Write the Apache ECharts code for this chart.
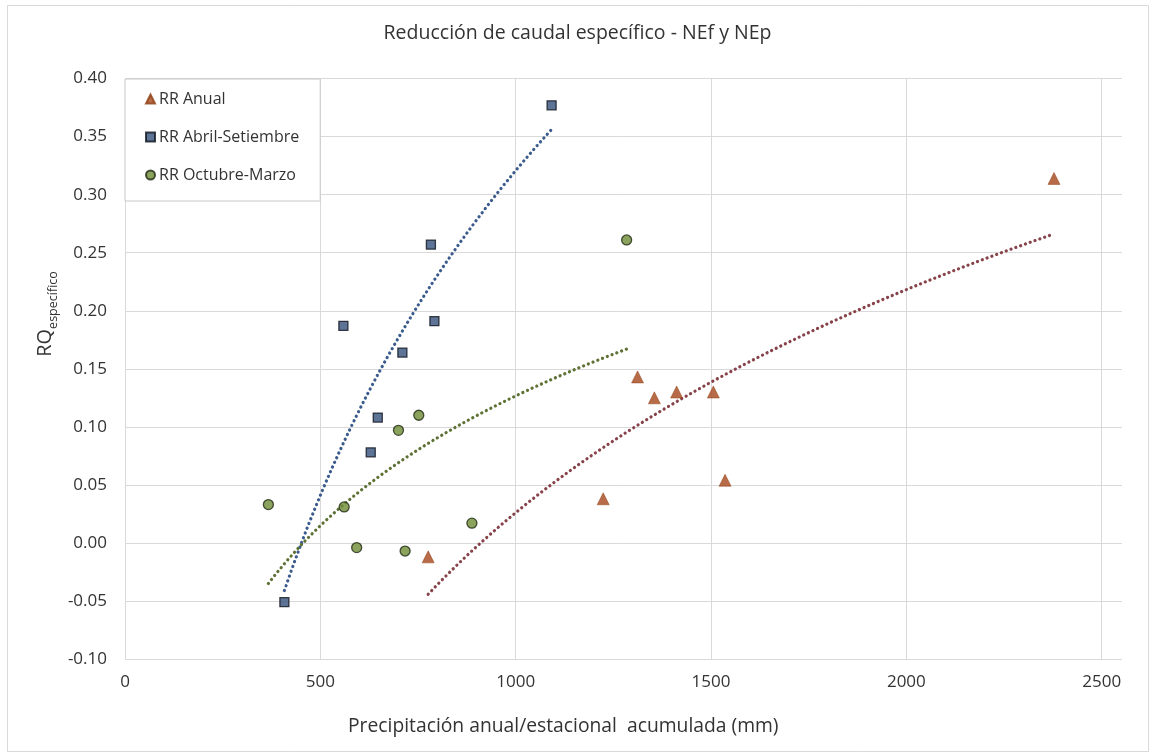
<!DOCTYPE html>
<html>
<head>
<meta charset="utf-8">
<script src="https://cdn.jsdelivr.net/npm/echarts@6/dist/echarts.min.js"></script>
<style>
  html, body { margin: 0; padding: 0; background: #fff; }
  #chart { width: 1155px; height: 753px; }
</style>
</head>
<body>
<div id="chart"></div>
<script>
// Precipitación acumulada (mm) y reducción de caudal específico por serie
const anualX = [776, 1224, 1312, 1355, 1412, 1506, 1536, 2378];
const anualY = [-0.012, 0.038, 0.143, 0.125, 0.130, 0.130, 0.054, 0.314];

const abrSetX = [408, 559, 629, 647, 710, 783, 792, 1092];
const abrSetY = [-0.051, 0.187, 0.078, 0.108, 0.164, 0.257, 0.191, 0.377];

const octMarX = [367, 561, 593, 700, 717, 752, 888, 1284];
const octMarY = [0.033, 0.031, -0.004, 0.097, -0.007, 0.110, 0.017, 0.261];

const seriesNames = ['RR Anual', 'RR Abril-Setiembre', 'RR Octubre-Marzo'];
const xTicks = [0, 500, 1000, 1500, 2000, 2500];

const FONT = "'Open Sans', 'Liberation Sans', sans-serif";
const TXT = '#333333';

function pairs(xs, ys) { return xs.map((x, i) => [x, ys[i]]); }

// Tendencia logarítmica por mínimos cuadrados: y = a·ln(x) + b
function logTrend(xs, ys, steps) {
  const n = xs.length;
  const lx = xs.map(Math.log);
  const mx = lx.reduce((s, v) => s + v, 0) / n;
  const my = ys.reduce((s, v) => s + v, 0) / n;
  let sxy = 0, sxx = 0;
  for (let i = 0; i < n; i++) { sxy += (lx[i] - mx) * (ys[i] - my); sxx += (lx[i] - mx) ** 2; }
  const a = sxy / sxx, b = my - a * mx;
  const x0 = Math.min(...xs), x1 = Math.max(...xs);
  const out = [];
  for (let k = 0; k <= steps; k++) {
    const x = x0 + (x1 - x0) * k / steps;
    out.push([x, a * Math.log(x) + b]);
  }
  return out;
}

const colAnual = '#a5461a', colAbr = '#35517c', colOct = '#6f8c35';
const trendAnual = '#87434a', trendAbr = '#3a5b8c', trendOct = '#5f7236';

function trend(data, color) {
  return {
    type: 'line', data: data, showSymbol: false, symbol: 'none', smooth: false,
    silent: true, z: 1,
    lineStyle: { color: color, width: 3.2, type: [0.1, 5], cap: 'round' }
  };
}

const chart = echarts.init(document.getElementById('chart'), null, { renderer: 'canvas' });
chart.setOption({
  animation: false,
  backgroundColor: '#fff',
  title: {
    text: 'Reducción de caudal específico - NEf y NEp',
    left: 'center', top: 18,
    textStyle: { fontFamily: FONT, fontSize: 19.5, fontWeight: 'normal', color: TXT }
  },
  grid: { left: 125, right: 33, top: 78.6, bottom: 94, containLabel: false },
  legend: {
    orient: 'vertical', left: 125, top: 79,
    data: seriesNames,
    itemWidth: 9, itemHeight: 9, itemGap: 22,
    padding: [12, 21, 18, 20],
    backgroundColor: '#fff', borderColor: '#c8c8c8', borderWidth: 1,
    textStyle: { fontFamily: FONT, fontSize: 16, color: TXT, padding: [0, 0, 0, -1] }
  },
  xAxis: {
    type: 'value', min: 0, max: 2552, interval: 500,
    axisLine: { show: false }, axisTick: { show: false },
    splitLine: { show: true, showMaxLine: false, lineStyle: { color: '#d9d9d9', width: 1 } },
    axisLabel: {
      fontFamily: FONT, fontSize: 17, color: TXT, margin: 15,
      formatter: v => (xTicks.indexOf(v) >= 0 ? String(v) : '')
    }
  },
  yAxis: {
    type: 'value', min: -0.1, max: 0.4, interval: 0.05,
    axisLine: { show: false }, axisTick: { show: false },
    splitLine: { show: true, lineStyle: { color: '#d9d9d9', width: 1 } },
    axisLabel: {
      fontFamily: FONT, fontSize: 17, color: TXT, margin: 18,
      formatter: v => v.toFixed(2)
    }
  },
  graphic: [
    {
      type: 'rect', silent: true, z: -1,
      shape: { x: 7.5, y: 5.5, width: 1141, height: 746 },
      style: { fill: 'none', stroke: '#d9d9d9', lineWidth: 1 }
    },
    {
      type: 'text', silent: true,
      left: 348, top: 717,
      style: {
        text: 'Precipitación anual/estacional  acumulada (mm)',
        fontFamily: FONT, fontSize: 19.3, fill: TXT
      }
    },
    {
      type: 'text', silent: true,
      x: 43, y: 314, rotation: Math.PI / 2,
      style: {
        text: '{a|RQ}{b|específico}',
        align: 'center', verticalAlign: 'middle',
        rich: {
          a: { fontFamily: FONT, fontSize: 20, fill: TXT, lineHeight: 24, verticalAlign: 'bottom' },
          b: { fontFamily: FONT, fontSize: 12.5, fill: TXT, lineHeight: 24, verticalAlign: 'bottom', padding: [0, 0, -5, 0] }
        }
      }
    }
  ],
  series: [
    trend(logTrend(anualX, anualY, 80), trendAnual),
    trend(logTrend(abrSetX, abrSetY, 80), trendAbr),
    trend(logTrend(octMarX, octMarY, 80), trendOct),
    {
      name: seriesNames[0], type: 'scatter', symbol: 'triangle', symbolSize: 12, z: 3,
      itemStyle: { color: colAnual, borderColor: '#8f3d10', borderWidth: 0.6 },
      data: pairs(anualX, anualY)
    },
    {
      name: seriesNames[1], type: 'scatter', symbol: 'rect', symbolSize: 9, z: 3,
      itemStyle: { color: colAbr, borderColor: '#0e131b', borderWidth: 1.3 },
      data: pairs(abrSetX, abrSetY)
    },
    {
      name: seriesNames[2], type: 'scatter', symbol: 'circle', symbolSize: 10, z: 3,
      itemStyle: { color: colOct, borderColor: '#1f2813', borderWidth: 1.3 },
      data: pairs(octMarX, octMarY)
    }
  ]
});
</script>
</body>
</html>
